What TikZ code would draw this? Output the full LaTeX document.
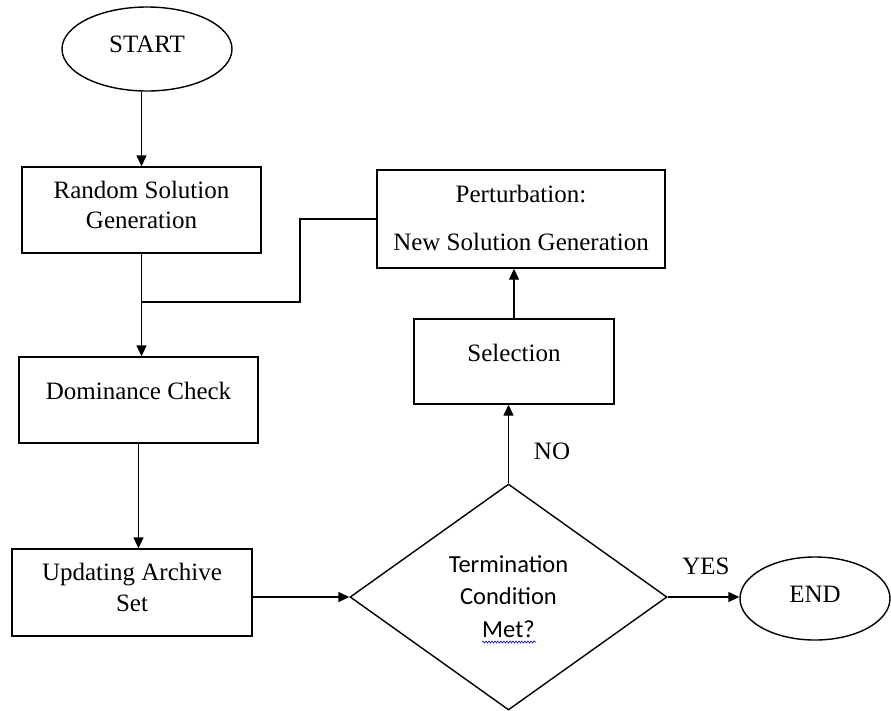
\documentclass[tikz,border=0pt]{standalone}
\usepackage{fontspec}
\setmainfont{Liberation Serif}
\newfontfamily\calibri{Carlito}
\usetikzlibrary{arrows.meta,shapes.geometric,decorations.pathmorphing}

\begin{document}
\begin{tikzpicture}[x=1pt,y=-1pt,>={Triangle[length=11pt,width=10pt]},line width=1.4pt,
  every node/.style={font=\fontsize{25}{30}\selectfont,inner sep=0pt},
  box/.style={draw,rectangle,align=center},
  oval/.style={draw,ellipse}]
\useasboundingbox (0,0) rectangle (891,710);
% left column
\node[oval,minimum width=170pt,minimum height=84pt,text height=14pt,text depth=8pt] (start) at (147,49) {START};
\node[box,minimum width=239pt,minimum height=86pt,text height=40pt,text depth=4pt] (rand) at (141.5,210) {Random Solution\\Generation};
\node[box,minimum width=239pt,minimum height=86pt,text height=18pt,text depth=20pt] (dom) at (138.5,400) {Dominance Check};
\node[box,minimum width=240pt,minimum height=87pt,text height=41pt,text depth=4pt] (upd) at (132,592.5) {Updating Archive\\[1pt]Set};
% right column
\node[box,minimum width=288pt,minimum height=98pt,text height=64pt,text depth=2pt] (pert) at (521,219) {Perturbation:\\[18pt]New Solution Generation};
\node[box,minimum width=200pt,minimum height=85pt,text height=18pt,text depth=19pt] (sel) at (514,361.5) {Selection};
\node[draw,diamond,minimum width=317pt,minimum height=226pt,align=center,text height=82pt,text depth=2pt,
  font=\calibri\fontsize{24.5}{32.5}\selectfont] (dec) at (508.5,597) {Termination\\Condition\\Met?};
\node[oval,minimum width=150pt,minimum height=83pt,text height=15pt,text depth=8pt] (end) at (815,598.5) {END};
\draw[blue!80!black,line width=.6pt,decorate,decoration={snake,amplitude=1pt,segment length=3pt}] (482,642) -- (536,642);
% connectors
\draw[->] (rand.north |- start.south) -- (rand.north);
\draw[->] (rand.south) -- (rand.south |- dom.north);
\coordinate (bend) at (300,302);
\draw (pert.west) -| (bend) -- (bend -| rand.south);
\draw[->] (dom.south) -- (dom.south |- upd.north);
\draw[->] (upd.east |- dec.west) -- (dec.west);
\draw[->] (dec.east) -- (dec.east -| end.west);
\draw[->] (dec.north) -- (dec.north |- sel.south);
\draw[->] (sel.north) -- (sel.north |- pert.south);
\node (nolbl) at (552,451) {NO};
\node (yeslbl) at (706,566) {YES};
\end{tikzpicture}
\end{document}
